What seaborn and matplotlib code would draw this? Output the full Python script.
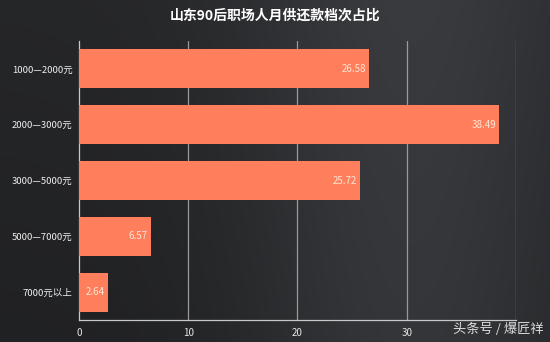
import numpy as np
import pandas as pd
import matplotlib
matplotlib.use("Agg")
import matplotlib.pyplot as plt
import seaborn as sns

categories = ["1000—2000元", "2000—3000元", "3000—5000元", "5000—7000元", "7000元以上"]
values = [26.58, 38.49, 25.72, 6.57, 2.64]
x_ticks = [0, 10, 20, 30, 40]
x_tick_labels = ["0", "10", "20", "30", ""]
title = "山东90后职场人月供还款档次占比"
credit = "头条号 / 爆匠祥"

sns.set_theme(style="dark")
plt.rcParams["font.family"] = ["Noto Sans CJK SC", "DejaVu Sans"]

fig = plt.figure(figsize=(5.5, 3.42), dpi=100)

# dark gradient backdrop
bg = fig.add_axes([0, 0, 1, 1], zorder=-10)
xx = np.linspace(0, 1, 300)
yy = np.linspace(0, 1, 200)
X, Y = np.meshgrid(xx, yy)
light = 0.15 + 0.08 * np.exp(-((X - 0.75) ** 2) / 0.10) - 0.02 * Y
img = np.dstack([light * 0.98, light * 1.0, light * 1.06])
bg.imshow(np.clip(img, 0, 1), aspect="auto", extent=[0, 1, 0, 1])
bg.axis("off")

ax = fig.add_axes([0.1436, 0.0643, 0.7945, 0.8157])
ax.set_facecolor("none")

df = pd.DataFrame({"category": categories, "value": values})
sns.barplot(data=df, x="value", y="category", orient="h", color="#ff7f5c",
            saturation=1, width=0.7, linewidth=0, edgecolor="none",
            ax=ax, zorder=3)

for i, v in enumerate(values):
    ax.text(v - 0.3, i, f"{v:.2f}", ha="right", va="center",
            color="#fde6d8", fontsize=7, zorder=4)

ax.set_xlim(0, 40)
ax.set_ylim(len(categories) - 0.5, -0.5)
ax.set_xticks(x_ticks)
ax.set_xticklabels(x_tick_labels, color="#e6e6e6", fontsize=7)
ax.tick_params(axis="y", labelsize=6.8, labelcolor="#f0f0f0", length=0, pad=4.5)
ax.set_yticks(range(len(categories)), minor=False)
ax.set_yticks([i + 0.5 for i in range(len(categories))], minor=True)
ax.tick_params(axis="y", which="minor", length=4, color="#bbbbbb", width=0.8)
ax.tick_params(axis="x", length=4, color="#bbbbbb", width=0.8, pad=2)
ax.set_xlabel("")
ax.set_ylabel("")

ax.grid(False)
for t in x_ticks[1:]:
    ax.axvline(t, color="#9a9a9a", lw=0.9, zorder=1)

for side in ["top", "right"]:
    ax.spines[side].set_visible(False)
for side in ["left", "bottom"]:
    ax.spines[side].set_visible(True)
    ax.spines[side].set_color("#c8c8c8")
    ax.spines[side].set_linewidth(0.9)

fig.text(0.5, 0.953, title, ha="center", va="center", color="white",
         fontsize=10, fontweight="bold")

fig.text(0.988, 0.036, credit, ha="right", va="center", color="#dcdcdc",
         fontsize=9.5, zorder=20)

fig.savefig("out.png", dpi=100)
